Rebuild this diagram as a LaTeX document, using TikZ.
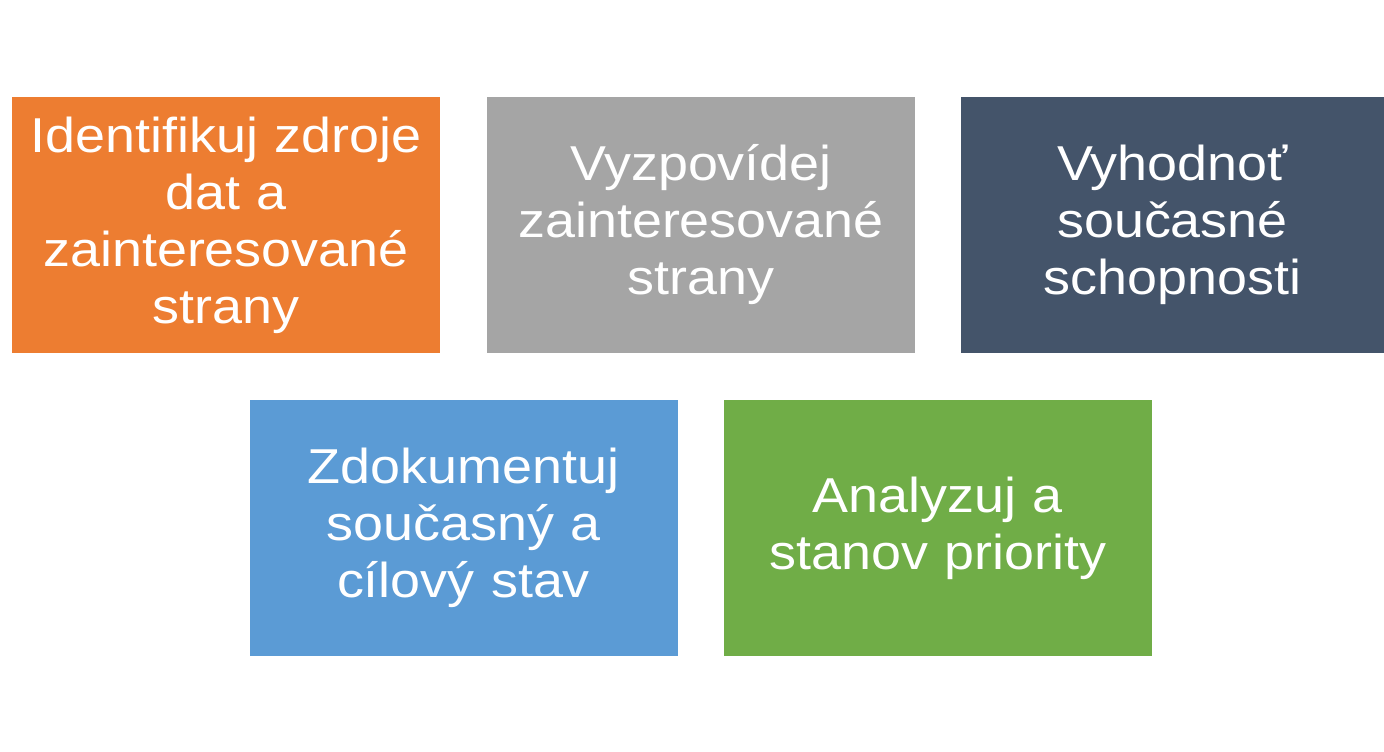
\documentclass[tikz,border=0pt]{standalone}
\usepackage{fontspec}
\setmainfont{Liberation Sans}
\newfontfamily\boxfont[FakeStretch=1.1]{Liberation Sans}
\definecolor{cOrange}{HTML}{ED7D31}
\definecolor{cGray}{HTML}{A5A5A5}
\definecolor{cSlate}{HTML}{44546A}
\definecolor{cBlue}{HTML}{5B9BD5}
\definecolor{cGreen}{HTML}{70AD47}
\tikzset{
  stepbox/.style={rectangle, draw=none, minimum width=428pt, minimum height=256pt,
    inner sep=0pt, text=white, align=center, text width=420pt,
    font=\boxfont\fontsize{49pt}{57pt}\selectfont}
}
\begin{document}
\begin{tikzpicture}[x=1pt,y=-1pt]
\useasboundingbox (0,0) rectangle (1384,752);
\fill[white] (0,0) rectangle (1384,752);
\node[stepbox, fill=cOrange] (b1) at (226,225) {Identifikuj zdroje\\dat a\\zainteresované\\strany};
\node[stepbox, fill=cGray] (b2) at (701,225) {Vyzpovídej\\zainteresované\\strany};
\node[stepbox, fill=cSlate, minimum width=423pt] (b3) at (1172.5,225) {Vyhodnoť\\současné\\schopnosti};
\node[stepbox, fill=cBlue] (b4) at (463.5,528) {Zdokumentuj\\současný a\\cílový stav};
\node[stepbox, fill=cGreen] (b5) at (938,528) {Analyzuj a\\stanov priority};
\end{tikzpicture}
\end{document}
